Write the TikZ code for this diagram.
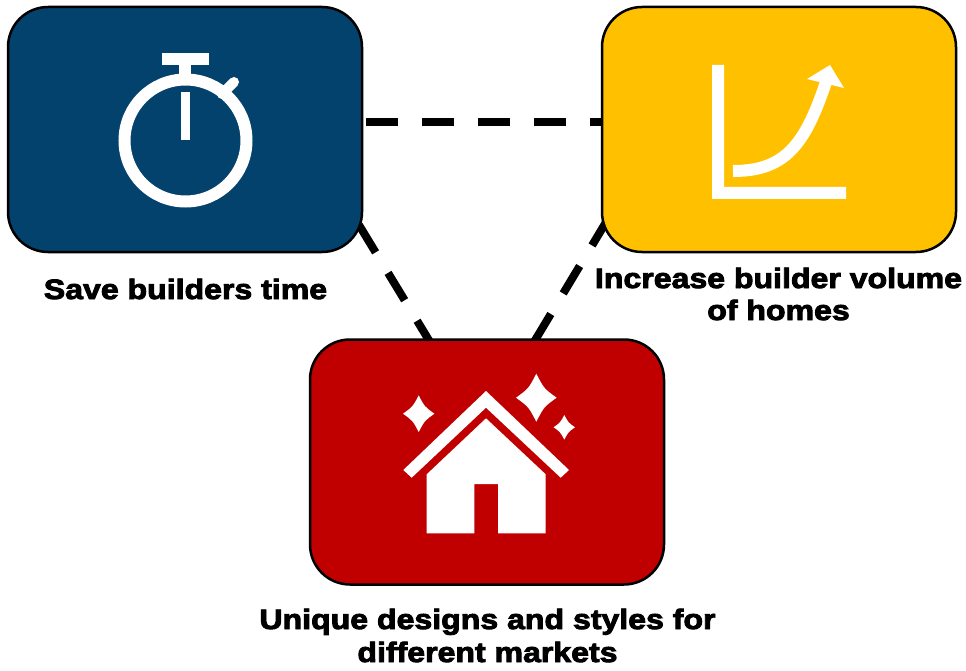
\documentclass[tikz,border=0pt]{standalone}
\usepackage{fontspec}
\newfontfamily\blk[FakeBold=3.2,FakeStretch=1.145]{Liberation Sans Bold}
\definecolor{bluebox}{HTML}{04426E}
\definecolor{yellowbox}{HTML}{FFC000}
\definecolor{redbox}{HTML}{C00000}
\tikzset{
  card/.style={draw=black,line width=2.5pt,rounded corners=40pt,minimum width=354pt,minimum height=245pt,inner sep=0pt,outer sep=0pt},
  link/.style={draw=black,line width=8pt,dash pattern=on 32pt off 24pt},
  caption/.style={font=\blk\fontsize{28}{32}\selectfont,align=center,anchor=base,inner sep=0pt,text=black},
  icon/.style={fill=white,draw=none},
  iconline/.style={draw=white,line width=12pt}
}
\newcommand{\sparkle}[4]{\fill[white] (#1-#3,#2) .. controls (#1-0.38*#3,#2-0.38*#4) .. (#1,#2-#4) .. controls (#1+0.38*#3,#2-0.38*#4) .. (#1+#3,#2) .. controls (#1+0.38*#3,#2+0.38*#4) .. (#1,#2+#4) .. controls (#1-0.38*#3,#2+0.38*#4) .. (#1-#3,#2) -- cycle;}
\begin{document}
\begin{tikzpicture}[x=1pt,y=-1pt]
\useasboundingbox (0,0) rectangle (966,671);
\coordinate (ha) at (366,122.5);
\coordinate (hb) at (606,122.5);
\coordinate (la) at (359,225);
\coordinate (lb) at (430,342);
\coordinate (ra) at (608.5,218);
\coordinate (rb) at (534,342);
\draw[link] (ha) -- (hb);
\draw[link] (la) -- (lb);
\draw[link] (ra) -- (rb);
\node[card,fill=bluebox] (blue) at (185,129.5) {};
\node[card,fill=yellowbox] (yellow) at (779,129.5) {};
\node[card,fill=redbox] (red) at (487,462) {};
% stopwatch
\draw[iconline] (185.5,140.5) circle (61);
\fill[icon] (162,53) rectangle (209,65);
\fill[icon] (179,64) rectangle (191,76);
\fill[icon] (181,92) rectangle (190,140);
\draw[white,line width=10pt,line cap=round] (222,94) -- (234,82);
% graph
\fill[icon] (712,65) -- (724,65) -- (724,187) -- (846,187) -- (846,199) -- (712,199) -- cycle;
\draw[iconline] (733,171) .. controls (785,171) and (805,145) .. (826,82);
\fill[icon] (830,65) -- (807,79) -- (844,88) -- cycle;
% house
\fill[icon] (486,391) -- (569,470) -- (560.7,477.7) -- (486,407.7) -- (411.7,477.7) -- (403.3,470) -- cycle;
\fill[icon] (486,418.3) -- (545.7,474.3) -- (545.7,533.3) -- (498,533.3) -- (498,484) -- (474.3,484) -- (474.3,533.3) -- (426.7,533.3) -- (426.7,474.3) -- cycle;
\sparkle{418.7}{413.7}{15.7}{18.3}
\sparkle{536.3}{397.7}{20.3}{24}
\sparkle{564.3}{427.3}{10.7}{12.3}
% captions
\node[caption] (t1) at (185.5,299) {Save builders time};
\node[caption] (t2a) at (778.5,288) {Increase builder volume};
\node[caption] (t2b) at (778.5,320) {of homes};
\node[caption] (t3a) at (487.5,629) {Unique designs and styles for};
\node[caption] (t3b) at (487.5,662) {different markets};
\end{tikzpicture}
\end{document}
